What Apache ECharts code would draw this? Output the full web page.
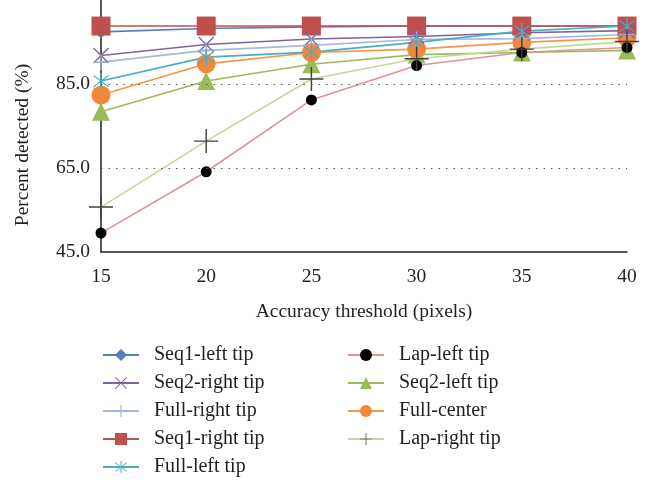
<!DOCTYPE html>
<html>
<head>
<meta charset="utf-8">
<script src="https://cdn.jsdelivr.net/npm/echarts@6/dist/echarts.min.js"></script>
<style>
  html, body { margin: 0; padding: 0; background: #fff; }
  #chart { width: 654px; height: 491px; }
</style>
</head>
<body>
<div id="chart"></div>
<script>
// accuracy thresholds (pixels)
var thresholds = ['15', '20', '25', '30', '35', '40'];

// percent detected per method
var seq1Left   = [97.4, 98.2, 98.6, 98.8, 98.8, 98.8];
var seq2Right  = [91.8, 94.4, 95.7, 96.3, 97.2, 97.7];
var fullRight  = [90.2, 93.0, 94.2, 95.6, 95.8, 96.8];
var seq1Right  = [98.8, 98.8, 98.8, 98.8, 98.8, 98.8];
var fullLeft   = [85.7, 91.4, 92.6, 94.9, 97.6, 98.8];
var lapLeft    = [49.5, 64.1, 81.2, 89.4, 92.5, 93.7];
var seq2Left   = [78.4, 85.7, 89.7, 92.0, 92.5, 93.0];
var fullCenter = [82.4, 89.8, 92.5, 93.3, 94.9, 96.0];
var lapRight   = [55.7, 71.4, 86.2, 91.0, 93.3, 95.1];

// dotted gridlines
var gridValues = [65, 85];

var leftNames = ['Seq1-left tip', 'Seq2-right tip', 'Full-right tip', 'Seq1-right tip', 'Full-left tip'];
var rightNames = ['Lap-left tip', 'Seq2-left tip', 'Full-center', 'Lap-right tip'];

var FONT = 'Liberation Serif';

// thin bar between two points, as a filled polygon (box 0..100)
function seg(x1, y1, x2, y2, w) {
    var dx = x2 - x1, dy = y2 - y1;
    var len = Math.sqrt(dx * dx + dy * dy);
    var nx = -dy / len * w / 2, ny = dx / len * w / 2;
    return 'M' + (x1 + nx) + ',' + (y1 + ny) +
        'L' + (x2 + nx) + ',' + (y2 + ny) +
        'L' + (x2 - nx) + ',' + (y2 - ny) +
        'L' + (x1 - nx) + ',' + (y1 - ny) + 'Z';
}
function plusPath(w) {
    return 'path://' + seg(50, 0, 50, 100, w) + seg(0, 50, 100, 50, w);
}
function crossPath(w) {
    return 'path://' + seg(0, 0, 100, 100, w) + seg(100, 0, 0, 100, w);
}
function starPath(w) {
    return 'path://' + seg(0, 0, 100, 100, w) + seg(100, 0, 0, 100, w) + seg(50, -20, 50, 120, w);
}

function mk(name, data, lineColor, markColor, symbol, size) {
    return {
        name: name,
        type: 'line',
        data: data,
        symbol: symbol,
        symbolSize: size,
        showAllSymbol: true,
        lineStyle: { color: lineColor, width: 1.6 },
        itemStyle: { color: markColor },
        emphasis: { disabled: true }
    };
}

var chart = echarts.init(document.getElementById('chart'));

var legendBase = {
    orient: 'vertical',
    padding: 0,
    itemWidth: 36,
    itemHeight: 15,
    itemGap: 8,
    textStyle: { fontFamily: FONT, fontSize: 20, color: '#231f20', lineHeight: 20, padding: [0, 0, 0, 10] }
};

var first = mk('Seq2-left tip', seq2Left, '#9BBB59', '#9BBB59', 'triangle', 18);
first.markLine = {
    silent: true,
    symbol: 'none',
    label: { show: false },
    lineStyle: { color: '#555', width: 1, type: [1.5, 6] },
    data: gridValues.map(function (v) { return { yAxis: v }; })
};

var option = {
    backgroundColor: '#fff',
    animation: false,
    grid: { left: 101, right: 27, top: -3, bottom: 239, containLabel: false },
    legend: [
        Object.assign({ left: 102, top: 345, data: leftNames }, legendBase),
        Object.assign({ left: 347, top: 345, data: rightNames }, legendBase)
    ],
    xAxis: {
        type: 'category',
        data: thresholds,
        boundaryGap: false,
        name: 'Accuracy threshold (pixels)',
        nameLocation: 'middle',
        nameGap: 50,
        nameTextStyle: { fontFamily: FONT, fontSize: 19.5, color: '#231f20' },
        axisLine: { lineStyle: { color: '#231f20', width: 1.5 } },
        axisTick: { show: false },
        axisLabel: { fontFamily: FONT, fontSize: 19.5, color: '#231f20', margin: 15 },
        splitLine: { show: false }
    },
    yAxis: {
        type: 'value',
        min: 45,
        max: 105,
        interval: 20,
        name: 'Percent detected (%)',
        nameLocation: 'middle',
        nameGap: 68,
        nameTextStyle: { fontFamily: FONT, fontSize: 19.5, color: '#231f20', padding: [0, 38, 0, 0] },
        axisLine: { show: true, lineStyle: { color: '#231f20', width: 1.5 } },
        axisTick: { show: false },
        axisLabel: {
            fontFamily: FONT, fontSize: 19.5, color: '#231f20', margin: 11,
            showMaxLabel: false,
            formatter: function (v) { return v.toFixed(1); }
        },
        splitLine: { show: false }
    },
    series: [
        first,
        mk('Full-center', fullCenter, '#F79646', '#F0883C', 'circle', 19),
        mk('Seq1-left tip', seq1Left, '#4F81BD', '#4F81BD', 'diamond', 13),
        mk('Seq1-right tip', seq1Right, '#C0504D', '#C0504D', 'rect', 19),
        mk('Seq2-right tip', seq2Right, '#8064A2', '#8064A2', crossPath(9), 16),
        mk('Full-right tip', fullRight, '#A7B9DB', '#9BAFD5', plusPath(9), 16),
        mk('Full-left tip', fullLeft, '#4BACC6', '#4BACC6', starPath(9), 16),
        mk('Lap-left tip', lapLeft, '#D99694', '#000000', 'circle', 11),
        mk('Lap-right tip', lapRight, '#C3D69B', '#404040', plusPath(6), 24)
    ]
};

chart.setOption(option);
</script>
</body>
</html>
